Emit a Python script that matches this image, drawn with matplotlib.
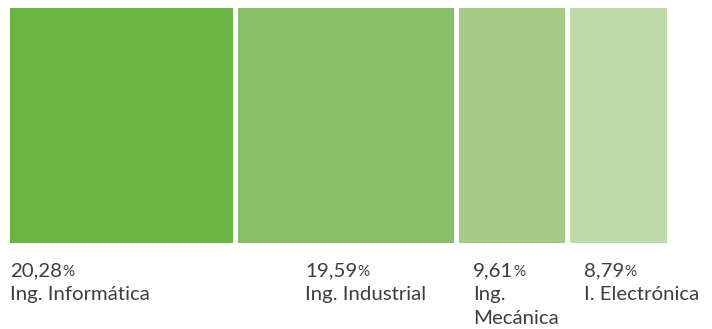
import matplotlib.pyplot as plt
from matplotlib.patches import Rectangle

# share of students per degree
carreras = ['Ing. Informática', 'Ing. Industrial', 'Ing.\nMecánica', 'I. Electrónica']
porcentajes = [20.28, 19.59, 9.61, 8.79]
etiquetas = ['20,28', '19,59', '9,61', '8,79']
colores = ['#6ab442', '#89bf64', '#a3cb85', '#bfdbaa']

W, H = 712, 329
fig = plt.figure(figsize=(W / 100, H / 100), dpi=100)
plt.rcParams['font.family'] = ['Lato', 'DejaVu Sans']

# axes in pixel box: x 10..667, y 8..243
ax = fig.add_axes([10 / W, 1 - 243 / H, 657 / W, 235 / H])
gap = 0.45
total = sum(porcentajes) + gap * (len(porcentajes) - 1)
x = 0
for p, c in zip(porcentajes, colores):
    ax.add_patch(Rectangle((x, 0), p, 1, color=c, lw=0))
    x += p + gap
ax.set_xlim(0, total)
ax.set_ylim(0, 1)
ax.axis('off')

# label columns (pixel x)
col_x = [10, 305, 473, 584]
gris = '#3d3d3d'
fs = 14.7
renderer = fig.canvas.get_renderer()
for cx, val, name in zip(col_x, etiquetas, carreras):
    t = fig.text(cx / W, 1 - 276 / H, val, fontsize=fs, color=gris, va='baseline')
    bb = t.get_window_extent(renderer)
    fig.text(bb.x1 / W, 1 - 276 / H, '%', fontsize=11, color=gris, va='baseline')
    for i, linea in enumerate(name.split('\n')):
        fig.text(cx / W, 1 - (300 + 23.5 * i) / H, linea, fontsize=fs, color=gris,
                 va='baseline')

fig.savefig('out.png', dpi=100)
